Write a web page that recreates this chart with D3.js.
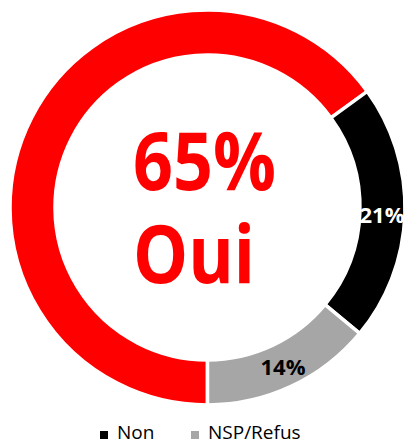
<!DOCTYPE html>
<html>
<head>
<meta charset="utf-8">
<script src="https://cdn.jsdelivr.net/npm/d3@7"></script>
<style>
  body { margin: 0; background: #fff; }
  text { font-family: "Open Sans", sans-serif; }
</style>
</head>
<body>
<div id="chart"></div>
<script>
var categories = ["Oui", "Non", "NSP/Refus"];
var values = [65, 21, 14];
var labels = ["65%", "21%", "14%"];
var legendItems = ["Non", "NSP/Refus"];

var width = 408, height = 444;
var cx = 207.5, cy = 207.5;
var outerR = 197.5, innerR = 152.5;

var color = d3.scaleOrdinal()
    .domain(categories)
    .range(["#ff0000", "#000000", "#a6a6a6"]);

var svg = d3.select("#chart")
    .append("svg")
    .attr("width", width)
    .attr("height", height);

var g = svg.append("g")
    .attr("transform", "translate(" + cx + "," + cy + ")");

// first slice starts at the bottom, like the Excel chart
var pie = d3.pie()
    .sort(null)
    .value(function(d) { return d; })
    .startAngle(Math.PI)
    .endAngle(3 * Math.PI);

var arc = d3.arc()
    .innerRadius(innerR)
    .outerRadius(outerR);

var arcs = pie(values);

g.selectAll("path.slice")
    .data(arcs)
    .enter()
    .append("path")
    .attr("class", "slice")
    .attr("d", arc)
    .attr("fill", function(d, i) { return color(categories[i]); })
    .attr("stroke", "#fff")
    .attr("stroke-width", 3.5);

// slice labels for Non and NSP
var labelPos = [null, [382, 223], [283, 375]];
g.selectAll("text.lbl")
    .data(arcs.slice(1))
    .enter()
    .append("text")
    .attr("class", "lbl")
    .attr("x", function(d, i) { return labelPos[i + 1][0] - cx; })
    .attr("y", function(d, i) { return labelPos[i + 1][1] - cy; })
    .attr("text-anchor", "middle")
    .attr("fill", function(d, i) { return i === 0 ? "#fff" : "#000"; })
    .style("font-weight", "bold")
    .style("font-size", "22px")
    .text(function(d, i) { return labels[i + 1]; });

// big centre text
svg.append("text")
    .attr("x", 133)
    .attr("y", 190)
    .attr("fill", "#ff0000")
    .attr("textLength", 143)
    .attr("lengthAdjust", "spacingAndGlyphs")
    .style("font-weight", "bold")
    .style("font-size", "80px")
    .text(labels[0]);

svg.append("text")
    .attr("x", 133)
    .attr("y", 283)
    .attr("fill", "#ff0000")
    .attr("textLength", 122)
    .attr("lengthAdjust", "spacingAndGlyphs")
    .style("font-weight", "bold")
    .style("font-size", "80px")
    .text(categories[0]);

// legend
var legendX = [100, 191];
var legend = svg.selectAll("g.legend")
    .data(legendItems)
    .enter()
    .append("g")
    .attr("class", "legend")
    .attr("transform", function(d, i) { return "translate(" + legendX[i] + ",0)"; });

legend.append("rect")
    .attr("x", 0)
    .attr("y", 431)
    .attr("width", 8)
    .attr("height", 8)
    .attr("fill", function(d) { return color(d); });

legend.append("text")
    .attr("x", 17)
    .attr("y", 439)
    .attr("fill", "#000")
    .style("font-size", "19px")
    .text(function(d) { return d; });
</script>
</body>
</html>
